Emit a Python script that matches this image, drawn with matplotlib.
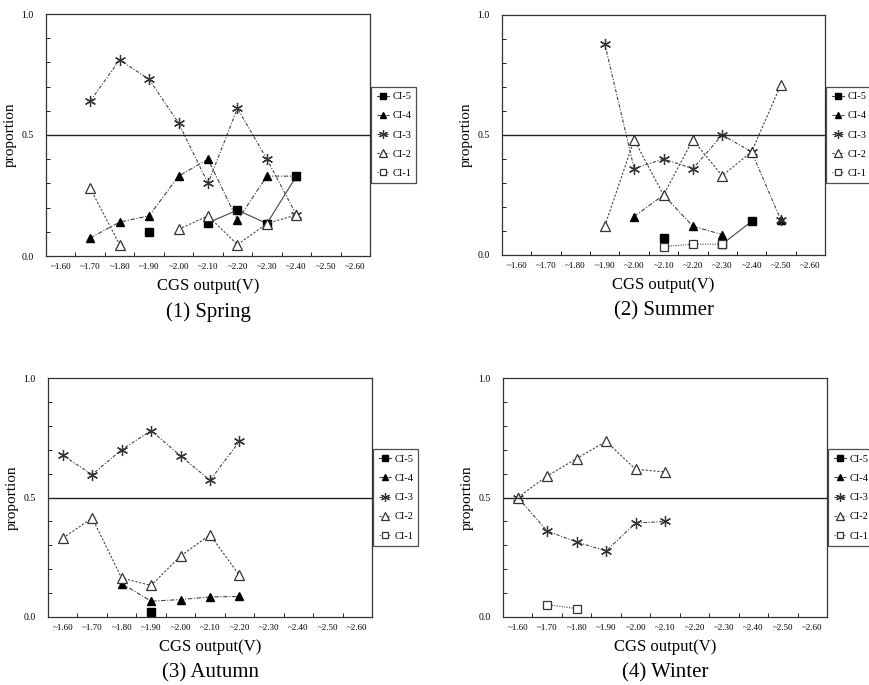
import numpy as np
import matplotlib
matplotlib.use("Agg")
import matplotlib.pyplot as plt
from matplotlib.ticker import MultipleLocator, FixedLocator

plt.rcParams['font.family'] = ['Liberation Serif', 'DejaVu Serif']

categories = ["~1.60", "~1.70", "~1.80", "~1.90", "~2.00", "~2.10",
              "~2.20", "~2.30", "~2.40", "~2.50", "~2.60"]
series_names = ["CI-5", "CI-4", "CI-3", "CI-2", "CI-1"]
n = np.nan

# Spring
spring_ci5 = [n, n, n, 0.10, n, 0.137, 0.19, 0.134, 0.33, n, n]
spring_ci4 = [n, 0.075, 0.14, 0.166, 0.33, 0.40, 0.148, 0.33, 0.33, n, n]
spring_ci3 = [n, 0.64, 0.81, 0.73, 0.55, 0.30, 0.61, 0.40, 0.17, n, n]
spring_ci2 = [n, 0.28, 0.047, n, 0.11, 0.166, 0.047, 0.134, 0.17, n, n]
spring_ci1 = [n] * 11

# Summer
summer_ci5 = [n, n, n, n, n, 0.07, n, 0.045, 0.14, n, n]
summer_ci4 = [n, n, n, n, 0.16, 0.25, 0.12, 0.085, n, 0.145, n]
summer_ci3 = [n, n, n, 0.88, 0.36, 0.40, 0.36, 0.50, 0.43, 0.145, n]
summer_ci2 = [n, n, n, 0.12, 0.48, 0.25, 0.48, 0.33, 0.43, 0.71, n]
summer_ci1 = [n, n, n, n, n, 0.035, 0.045, 0.045, n, n, n]

# Autumn
autumn_ci5 = [n, n, n, 0.021, n, n, n, n, n, n, n]
autumn_ci4 = [n, n, 0.14, 0.066, 0.073, 0.084, 0.086, n, n, n, n]
autumn_ci3 = [0.676, 0.596, 0.70, 0.78, 0.674, 0.572, 0.735, n, n, n, n]
autumn_ci2 = [0.33, 0.414, 0.163, 0.132, 0.255, 0.344, 0.174, n, n, n, n]
autumn_ci1 = [n] * 11

# Winter
winter_ci5 = [n] * 11
winter_ci4 = [n] * 11
winter_ci3 = [0.50, 0.36, 0.314, 0.276, 0.393, 0.40, n, n, n, n, n]
winter_ci2 = [0.50, 0.59, 0.663, 0.735, 0.618, 0.607, n, n, n, n, n]
winter_ci1 = [n, 0.052, 0.035, n, n, n, n, n, n, n, n]

panel_titles = ["(1) Spring", "(2) Summer", "(3) Autumn", "(4) Winter"]
panel_data = [
    [spring_ci5, spring_ci4, spring_ci3, spring_ci2, spring_ci1],
    [summer_ci5, summer_ci4, summer_ci3, summer_ci2, summer_ci1],
    [autumn_ci5, autumn_ci4, autumn_ci3, autumn_ci2, autumn_ci1],
    [winter_ci5, winter_ci4, winter_ci3, winter_ci2, winter_ci1],
]

W, H = 869, 685
fig = plt.figure(figsize=(W / 100, H / 100), dpi=100)

# axes boxes in pixels: left, right, top, bottom
boxes = [(46, 370, 14, 256), (502, 825, 15, 255),
         (48, 372, 378, 617), (503, 827, 378, 617)]

styles = [
    dict(marker='s', mfc='black', mec='black', ms=5.5, ls='-'),
    dict(marker='^', mfc='black', mec='black', ms=6, ls=(0, (4, 1.5, 1, 1.5))),
    dict(marker=(6, 2, 0), mfc='none', mec='#333333', ms=8, mew=0.9, ls=(0, (3, 1.5, 1, 1.5))),
    dict(marker='^', mfc='white', mec='#333333', ms=6.5, mew=0.9, ls=(0, (2, 1.5))),
    dict(marker='s', mfc='white', mec='#333333', ms=6, mew=0.9, ls=(0, (1, 1.2))),
]

x = np.arange(len(categories))
for k, (l, r, t, b) in enumerate(boxes):
    ax = fig.add_axes([l / W, 1 - b / H, (r - l) / W, (b - t) / H])
    for name, vals, st in zip(series_names, panel_data[k], styles):
        ax.plot(x, vals, color='#444444', lw=0.8, label=name, **st)
    ax.axhline(0.5, color='#222222', lw=1.0)
    ax.set_xlim(-0.5, len(categories) - 0.5)
    ax.set_ylim(0, 1.0)
    ax.set_xticks(x)
    ax.set_xticklabels(categories, fontsize=6.5)
    ax.xaxis.set_minor_locator(FixedLocator(np.arange(0.5, len(categories) - 0.5, 1)))
    ax.tick_params(axis='x', which='major', length=0, pad=5)
    ax.tick_params(axis='x', which='minor', length=3, direction='in', width=0.6)
    ax.set_yticks([0.0, 0.5, 1.0])
    ax.set_yticklabels(["0.0", "0.5", "1.0"], fontsize=7)
    ax.yaxis.set_minor_locator(MultipleLocator(0.1))
    ax.tick_params(axis='y', which='major', length=0, pad=9)
    ax.tick_params(axis='y', which='minor', length=3, direction='in', width=0.6)
    for sp in ax.spines.values():
        sp.set_color('#333333')
        sp.set_linewidth(0.9)
    ax.set_ylabel("proportion", fontsize=11)
    ax.yaxis.set_label_coords(-0.09, 0.5)
    ax.set_xlabel("CGS output(V)", fontsize=12, labelpad=5)
    leg = ax.legend(loc='center left', bbox_to_anchor=(1.004, 0.5), fontsize=7.5,
                    frameon=True, fancybox=False, handlelength=1.2,
                    handletextpad=0.3, labelspacing=0.95, borderpad=0.5,
                    borderaxespad=0.0, markerscale=0.8)
    leg.get_frame().set_edgecolor('#222222')
    leg.get_frame().set_linewidth(0.9)
    cx = (l + r) / 2 / W
    ty = 1 - (b + 56) / H
    fig.text(cx, ty, panel_titles[k], ha='center', va='center', fontsize=15)

fig.savefig("out.png", dpi=100)
